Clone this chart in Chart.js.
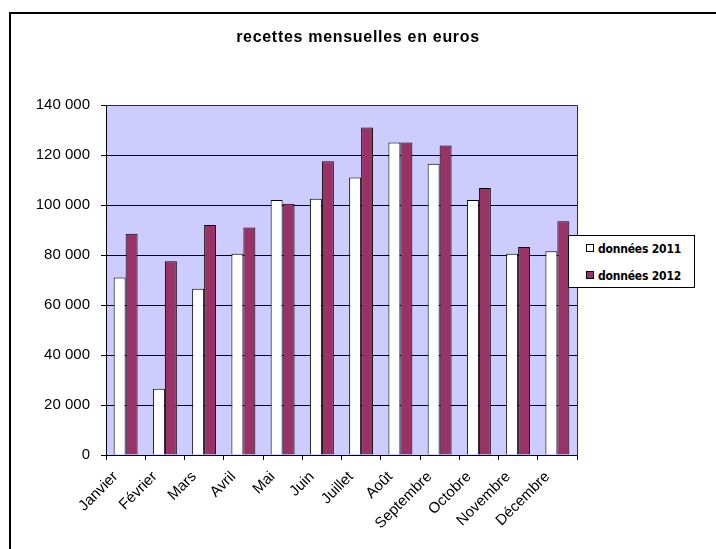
<!DOCTYPE html>
<html>
<head>
<meta charset="utf-8">
<script src="https://cdn.jsdelivr.net/npm/chart.js@4/dist/chart.umd.min.js"></script>
<style>
  html, body { margin: 0; padding: 0; background: #fff; overflow: hidden; }
  #wrap { position: relative; width: 716px; height: 549px; }
  #cadre { position: absolute; left: 9px; top: 12px; width: 800px; height: 700px; border: 2px solid #000; }
  #c { position: absolute; left: 0; top: 0; }
  #titre { position: absolute; left: 158px; width: 400px; top: 28px; text-align: center;
    font-family: "Liberation Sans", Arial, sans-serif; font-weight: bold; font-size: 16px; letter-spacing: 0.7px; color: #000; }
  #legende { position: absolute; left: 568px; top: 235px; width: 125px; height: 51px; border: 1px solid #000; background: #fff;
    font-family: "DejaVu Sans Condensed", "Liberation Sans", sans-serif; font-weight: bold; font-size: 12px; letter-spacing: -0.2px; color: #000; }
  .item { position: absolute; left: 17px; height: 16px; line-height: 16px; white-space: nowrap; }
  .carre { display: inline-block; width: 6px; height: 6px; border: 1px solid #000; margin-right: 4px; vertical-align: 1px; }
</style>
</head>
<body>
<div id="wrap">
  <div id="cadre"></div>
  <canvas id="c" width="716" height="549"></canvas>
  <div id="titre">recettes mensuelles en euros</div>
  <div id="legende"></div>
</div>
<script>
// valeurs
const mois = ['Janvier', 'Février', 'Mars', 'Avril', 'Mai', 'Juin', 'Juillet', 'Août', 'Septembre', 'Octobre', 'Novembre', 'Décembre'];
const recettes2011 = [71000, 26500, 66500, 80500, 102000, 102500, 111000, 125000, 116500, 102000, 80500, 81500];
const recettes2012 = [88500, 77500, 92000, 91000, 100500, 117500, 131000, 125000, 123800, 106800, 83200, 93500];
const graduations = [0, 20000, 40000, 60000, 80000, 100000, 120000, 140000];

const series = [
  {label: 'données 2011', data: recettes2011, couleur: '#FFFFFF'},
  {label: 'données 2012', data: recettes2012, couleur: '#993366'}
];

function milliers(v){
  return String(v).replace(/\B(?=(\d{3})+(?!\d))/g, ' ');
}

// fond du graphique + bord bleu en haut et a droite
const fondZone = {
  id: 'fondZone',
  beforeDraw(chart){
    const a = chart.chartArea, ctx = chart.ctx;
    ctx.save();
    ctx.fillStyle = '#CCCCFF';
    ctx.fillRect(a.left, a.top, a.right - a.left, a.bottom - a.top);
    ctx.restore();
  },
  afterDraw(chart){
    const a = chart.chartArea, ctx = chart.ctx;
    ctx.save();
    ctx.strokeStyle = '#1f1fa0';
    ctx.lineWidth = 1;
    ctx.beginPath();
    ctx.moveTo(a.left, a.top + 0.5);
    ctx.lineTo(a.right + 0.5, a.top + 0.5);
    ctx.lineTo(a.right + 0.5, a.bottom);
    ctx.stroke();
    ctx.restore();
  }
};

const config = {
  type: 'bar',
  data: {
    labels: mois,
    datasets: series.map(s => ({
      label: s.label,
      data: s.data,
      backgroundColor: s.couleur,
      borderColor: '#000000',
      borderWidth: 1,
      categoryPercentage: 0.61,
      barPercentage: 1.0
    }))
  },
  options: {
    responsive: false,
    animation: false,
    devicePixelRatio: 1,
    layout: {padding: {left: 10, right: 139, top: 105, bottom: 0}},
    plugins: {
      legend: {display: false},
      tooltip: {enabled: false},
      title: {display: false}
    },
    scales: {
      x: {
        afterFit(scale){ scale.height = 94; },
        grid: {display: true, drawOnChartArea: false, drawTicks: true, tickLength: 5, color: '#000', offset: true},
        border: {color: '#000', width: 1},
        ticks: {
          color: '#000',
          font: {family: 'Liberation Sans, Arial, sans-serif', size: 15},
          minRotation: 45, maxRotation: 45, autoSkip: false,
          padding: 8, labelOffset: -10
        }
      },
      y: {
        min: 0,
        max: 140000,
        afterFit(scale){ scale.width = 96; },
        afterBuildTicks(scale){ scale.ticks = graduations.map(v => ({value: v})); },
        grid: {color: '#000', lineWidth: 1, drawTicks: true, tickLength: 5},
        border: {color: '#000', width: 1},
        ticks: {
          color: '#000',
          font: {family: 'Liberation Sans, Arial, sans-serif', size: 15},
          padding: 11,
          callback: v => milliers(v)
        }
      }
    }
  },
  plugins: [fondZone]
};

var graphique = new Chart(document.getElementById('c'), config);

// legende a part, dans un cadre qui deborde sur la zone
const leg = document.getElementById('legende');
series.forEach((s, i) => {
  const d = document.createElement('div');
  d.className = 'item';
  d.style.top = (5 + i * 27) + 'px';
  d.innerHTML = '<span class="carre" style="background:' + s.couleur + '"></span>' + s.label;
  leg.appendChild(d);
});
</script>
</body>
</html>
